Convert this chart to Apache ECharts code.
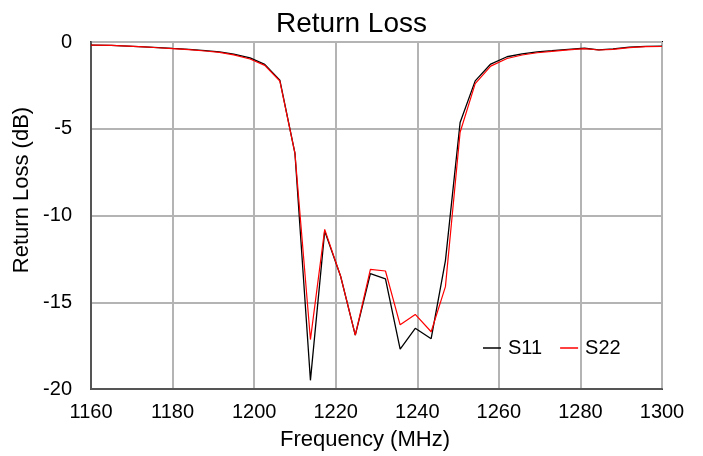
<!DOCTYPE html>
<html>
<head>
<meta charset="utf-8">
<script src="https://cdn.jsdelivr.net/npm/echarts@6/dist/echarts.min.js"></script>
<style>
  html, body { margin: 0; padding: 0; background: #fff; }
  #chart { width: 703px; height: 456px; }
</style>
</head>
<body>
<div id="chart"></div>
<script>
// 频率点 (MHz)
const freq = [
  1160, 1165, 1169, 1173, 1176.5, 1180, 1184, 1188, 1191.5, 1195,
  1199, 1202.6, 1206.3, 1210, 1213.8, 1217.3, 1221.2, 1224.8, 1228.5, 1232.2,
  1235.8, 1239.5, 1243.4, 1246.9, 1250.5, 1254.2, 1258, 1262, 1265.7, 1269.4,
  1273, 1277, 1281, 1284.5, 1288, 1292, 1296, 1300
]
// S11 (dB)
const s11 = [
  -0.18, -0.2, -0.24, -0.28, -0.32, -0.37, -0.42, -0.5, -0.57, -0.7,
  -0.92, -1.29, -2.2, -6.4, -19.5, -10.9, -13.5, -16.9, -13.35, -13.65,
  -17.7, -16.5, -17.1, -12.6, -4.64, -2.24, -1.27, -0.85, -0.68, -0.57,
  -0.5, -0.42, -0.36, -0.45, -0.4, -0.3, -0.25, -0.24
]
// S22 (dB)
const s22 = [
  -0.18, -0.2, -0.24, -0.28, -0.33, -0.38, -0.44, -0.52, -0.6, -0.74,
  -0.98, -1.35, -2.25, -6.4, -17.15, -10.8, -13.5, -16.9, -13.1, -13.2,
  -16.3, -15.7, -16.7, -14.1, -5.2, -2.4, -1.39, -0.95, -0.75, -0.62,
  -0.54, -0.45, -0.38, -0.46, -0.42, -0.32, -0.27, -0.26
]
const xTicks = { min: 1160, max: 1300, step: 20 }
const yTicks = { min: -20, max: 0, step: 5 }

const font = 'Arial, "Liberation Sans", sans-serif'
const chart = echarts.init(document.getElementById('chart'))

chart.setOption({
  animation: false,
  backgroundColor: '#fff',
  title: {
    text: 'Return Loss',
    left: 'center',
    top: 5,
    textStyle: { fontFamily: font, fontSize: 28, fontWeight: 'normal', color: '#000' }
  },
  legend: {
    left: 478,
    top: 333,
    itemWidth: 18,
    itemHeight: 1.5,
    itemGap: 18,
    icon: 'rect',
    textStyle: { fontFamily: font, fontSize: 20, color: '#000', padding: [0, 0, 0, 2] },
    data: ['S11', 'S22']
  },
  grid: {
    left: 91,
    right: 41,
    top: 42,
    bottom: 67,
    show: true,
    borderColor: '#000',
    borderWidth: 2
  },
  xAxis: {
    type: 'value',
    min: xTicks.min,
    max: xTicks.max,
    interval: xTicks.step,
    axisLine: { show: true, onZero: false, lineStyle: { color: '#555', width: 2 } },
    axisTick: { show: false },
    axisLabel: { fontFamily: font, fontSize: 20, color: '#000', margin: 13, formatter: v => String(v) },
    splitLine: { show: true, lineStyle: { color: '#b4b4b4', width: 2 } }
  },
  yAxis: {
    type: 'value',
    min: yTicks.min,
    max: yTicks.max,
    interval: yTicks.step,
    axisLine: { show: true, lineStyle: { color: '#555', width: 2 } },
    axisTick: { show: false },
    axisLabel: { fontFamily: font, fontSize: 20, color: '#000', margin: 19 },
    splitLine: { show: true, lineStyle: { color: '#b4b4b4', width: 2 } }
  },
  // 坐标轴名称
  graphic: [
    {
      type: 'text',
      x: 365,
      y: 440,
      style: {
        text: 'Frequency (MHz)',
        font: '22px ' + font,
        fill: '#000',
        align: 'center',
        verticalAlign: 'middle'
      }
    },
    {
      type: 'text',
      x: 22,
      y: 190,
      rotation: Math.PI / 2,
      style: {
        text: 'Return Loss (dB)',
        font: '22px ' + font,
        fill: '#000',
        align: 'center',
        verticalAlign: 'middle'
      }
    }
  ],
  series: [
    {
      name: 'S11',
      type: 'line',
      showSymbol: false,
      color: '#000',
      lineStyle: { color: '#000', width: 1.3 },
      data: freq.map((f, i) => [f, s11[i]])
    },
    {
      name: 'S22',
      type: 'line',
      showSymbol: false,
      color: '#ff0000',
      lineStyle: { color: '#ff0000', width: 1.2 },
      data: freq.map((f, i) => [f, s22[i]])
    }
  ]
})
</script>
</body>
</html>
